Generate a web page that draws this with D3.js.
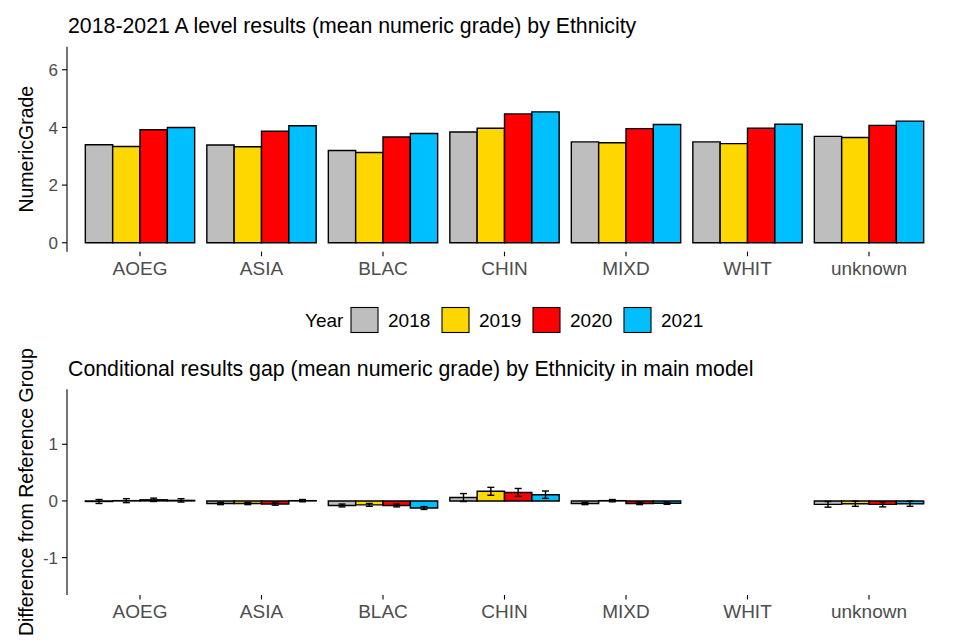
<!DOCTYPE html>
<html lang="en">
<head>
<meta charset="UTF-8">
<title>A level results by Ethnicity</title>
<style>
    body { margin: 0; background: #fff; }
    svg { display: block; font-family: "Liberation Sans", Arial, sans-serif; }
    .axis-line { stroke: #000; stroke-width: 1.1; }
    .tick-lab { fill: #4d4d4d; }
    .bar { stroke: #000; stroke-width: 1.4; }
</style>
</head>
<body>
<svg id="chart" width="960" height="640"></svg>

<script src="https://d3js.org/d3.v7.min.js"></script>
<script>
// categories and series
const ethnicities = ['AOEG', 'ASIA', 'BLAC', 'CHIN', 'MIXD', 'WHIT', 'unknown'];
const years = ['2018', '2019', '2020', '2021'];
const yearColours = ['#BEBEBE', '#FFD700', '#FF0000', '#00BFFF'];

// top panel: mean numeric grade, one row per ethnicity, one value per year
const meanGrade = [
    [3.40, 3.34, 3.92, 4.00],
    [3.39, 3.33, 3.87, 4.06],
    [3.20, 3.13, 3.67, 3.79],
    [3.84, 3.97, 4.47, 4.54],
    [3.50, 3.47, 3.96, 4.10],
    [3.50, 3.44, 3.97, 4.11],
    [3.69, 3.65, 4.07, 4.22]
];

// bottom panel: gap from reference group (WHIT has none) and its error
const gapValue = [
    [-0.01, 0.005, 0.02, 0.01],
    [-0.045, -0.045, -0.055, 0.005],
    [-0.08, -0.07, -0.08, -0.125],
    [0.06, 0.17, 0.15, 0.11],
    [-0.045, 0.005, -0.045, -0.04],
    [null, null, null, null],
    [-0.06, -0.05, -0.06, -0.05]
];
const gapError = [
    [0.035, 0.035, 0.03, 0.03],
    [0.02, 0.02, 0.02, 0.02],
    [0.025, 0.025, 0.025, 0.025],
    [0.07, 0.07, 0.07, 0.065],
    [0.02, 0.02, 0.02, 0.02],
    [null, null, null, null],
    [0.05, 0.045, 0.045, 0.045]
];

const topTicks = [0, 2, 4, 6];
const bottomTicks = [-1, 0, 1];

const svg = d3.select('#chart');

// shared x: discrete scale with ggplot-like 0.6 expansion
const x = d3.scalePoint().domain(ethnicities).range([140, 869]);
const step = x.step();
const groupW = step * 0.9;
const xYear = d3.scaleBand().domain(years).range([-groupW / 2, groupW / 2]).padding(0);
const colour = d3.scaleOrdinal().domain(years).range(yearColours);

// bar as a closed path so a zero-height bar still shows its outline
function barPath(x0, w, ya, yb) {
    const p = d3.path();
    p.rect(x0, Math.min(ya, yb), w, Math.abs(yb - ya));
    return p.toString();
}

function drawPanel(opts) {
    const g = svg.append('g');
    const y = d3.scaleLinear().domain(opts.domain).range([opts.bottom, opts.top]);

    // title
    svg.append('text')
        .attr('x', 68).attr('y', opts.titleY)
        .attr('font-size', 21.3).attr('fill', '#000')
        .text(opts.title);

    // y axis line and ticks
    g.append('line').attr('class', 'axis-line')
        .attr('x1', 67).attr('x2', 67)
        .attr('y1', opts.top).attr('y2', opts.bottom);
    opts.ticks.forEach(t => {
        g.append('line').attr('class', 'axis-line')
            .attr('x1', 62).attr('x2', 67)
            .attr('y1', y(t)).attr('y2', y(t));
        g.append('text').attr('class', 'tick-lab')
            .attr('x', 58).attr('y', y(t)).attr('dy', '0.36em')
            .attr('text-anchor', 'end').attr('font-size', 17)
            .text(t);
    });

    // x ticks and labels
    ethnicities.forEach(e => {
        g.append('line').attr('class', 'axis-line')
            .attr('x1', x(e)).attr('x2', x(e))
            .attr('y1', opts.bottom).attr('y2', opts.bottom + 4.5);
        g.append('text').attr('class', 'tick-lab')
            .attr('x', x(e)).attr('y', opts.bottom + 23)
            .attr('text-anchor', 'middle').attr('font-size', 19)
            .text(e);
    });

    // y axis title
    svg.append('text')
        .attr('transform', `translate(33,${(opts.top + opts.bottom) / 2}) rotate(-90)`)
        .attr('text-anchor', 'middle').attr('font-size', 19.5).attr('fill', '#000')
        .text(opts.yTitle);

    return { g, y };
}

// ---- top panel
const topP = drawPanel({
    domain: [-0.31, 6.8], top: 46.7, bottom: 251.7, titleY: 33,
    ticks: topTicks, yTitle: 'NumericGrade',
    title: '2018-2021 A level results (mean numeric grade) by Ethnicity'
});

ethnicities.forEach((e, i) => {
    years.forEach((yr, j) => {
        const v = meanGrade[i][j];
        topP.g.append('path').attr('class', 'bar')
            .attr('d', barPath(x(e) + xYear(yr), xYear.bandwidth(), topP.y(0), topP.y(v)))
            .attr('fill', colour(yr));
    });
});

// ---- bottom panel
const botP = drawPanel({
    domain: [-1.66, 1.97], top: 389.3, bottom: 595, titleY: 376,
    ticks: bottomTicks, yTitle: 'Difference from Reference Group',
    title: 'Conditional results gap (mean numeric grade) by Ethnicity in main model'
});

ethnicities.forEach((e, i) => {
    years.forEach((yr, j) => {
        const v = gapValue[i][j];
        if (v === null) return;
        botP.g.append('path').attr('class', 'bar')
            .attr('d', barPath(x(e) + xYear(yr), xYear.bandwidth(), botP.y(0), botP.y(v)))
            .attr('fill', colour(yr));
    });
});

// error bars on top
ethnicities.forEach((e, i) => {
    years.forEach((yr, j) => {
        const v = gapValue[i][j];
        if (v === null) return;
        const err = gapError[i][j];
        const cx = x(e) + xYear(yr) + xYear.bandwidth() / 2;
        const yHi = botP.y(v + err), yLo = botP.y(v - err);
        const cap = 3.5;
        const eb = botP.g.append('g').attr('stroke', '#000').attr('stroke-width', 1.4);
        eb.append('line').attr('x1', cx).attr('x2', cx).attr('y1', yHi).attr('y2', yLo);
        eb.append('line').attr('x1', cx - cap).attr('x2', cx + cap).attr('y1', yHi).attr('y2', yHi);
        eb.append('line').attr('x1', cx - cap).attr('x2', cx + cap).attr('y1', yLo).attr('y2', yLo);
    });
});

// ---- legend
const legend = svg.append('g').attr('font-size', 19).attr('fill', '#000');
legend.append('text').attr('x', 305).attr('y', 327).text('Year');
years.forEach((yr, j) => {
    const lx = 351 + j * 91;
    legend.append('rect')
        .attr('x', lx).attr('y', 307.5)
        .attr('width', 27).attr('height', 25)
        .attr('fill', colour(yr)).attr('stroke', '#000').attr('stroke-width', 1.1);
    legend.append('text').attr('x', lx + 37).attr('y', 327).text(yr);
});
</script>
</body>
</html>
